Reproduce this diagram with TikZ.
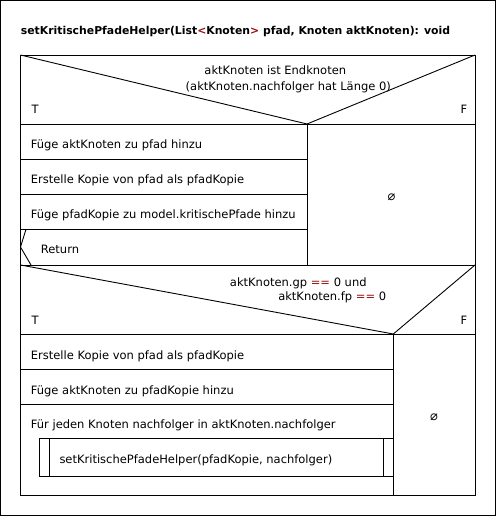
\documentclass[tikz,border=0pt]{standalone}
\usepackage{fontspec}
\setmainfont{DejaVu Sans}
\definecolor{kw}{RGB}{150,15,15}
\begin{document}
\begin{tikzpicture}[x=1pt,y=-1pt,
  ln/.style={line width=0.9pt,black},
  txt/.style={inner sep=0pt,anchor=base west,font=\fontsize{11.5}{13}\selectfont},
  ctxt/.style={inner sep=0pt,anchor=base,font=\fontsize{11.5}{13}\selectfont},
  empt/.style={inner sep=0pt,anchor=center,font=\fontsize{13}{14}\selectfont}]
\useasboundingbox (0,0) rectangle (496,516);
\fill[white] (0,0) rectangle (496,516);
\draw[ln] (0.5,0.5) rectangle (495.5,515.5);
% title
\node[txt,font=\bfseries\fontsize{10.85}{12}\selectfont] (title) at (20.7,34.3)
  {setKritischePfadeHelper(List\textcolor{kw}{<}Knoten\textcolor{kw}{>} pfad, Knoten aktKnoten): void};
% main box
\draw[ln] (20.5,55) rectangle (475,495);
% decision 1
\draw[ln] (20.5,55) -- (307,124) -- (475,55);
\draw[ln] (20.5,124) -- (475,124);
\draw[ln] (307,124) -- (307,265);
\node[ctxt] (c1a) at (275.3,75) {aktKnoten ist Endknoten};
\node[ctxt] (c1b) at (288.3,90.3) {(aktKnoten.nachfolger hat Länge 0)};
\node[txt] (t1) at (31.5,113.3) {T};
\node[txt] (f1) at (460.5,113.3) {F};
\draw[ln] (20.5,159.3) -- (307,159.3);
\draw[ln] (20.5,194.3) -- (307,194.3);
\draw[ln] (20.5,229.3) -- (307,229.3);
\draw[ln] (20.5,265) -- (475,265);
\node[txt] (s1) at (30.7,148.3) {Füge aktKnoten zu pfad hinzu};
\node[txt] (s2) at (30.7,183.3) {Erstelle Kopie von pfad als pfadKopie};
\node[txt] (s3) at (30.7,218.3) {Füge pfadKopie zu model.kritischePfade hinzu};
\node[txt] (ret) at (40.7,253.3) {Return};
\draw[ln] (26,229.3) -- (20.5,247) -- (31,265);
\node[empt] (e1) at (391.5,197) {⌀};
% decision 2
\draw[ln] (20.5,265) -- (393.3,334) -- (475,265);
\draw[ln] (20.5,334) -- (475,334);
\draw[ln] (393.3,334) -- (393.3,495);
\node[ctxt] (c2a) at (298.3,286) {aktKnoten.gp \textcolor{kw}{==} 0 und};
\node[ctxt] (c2b) at (332.2,300) {aktKnoten.fp \textcolor{kw}{==} 0};
\node[txt] (t2) at (31.5,324.3) {T};
\node[txt] (f2) at (460.5,324.3) {F};
\draw[ln] (20.5,369.3) -- (393.3,369.3);
\draw[ln] (20.5,404.3) -- (393.3,404.3);
\node[txt] (s4) at (30.7,359) {Erstelle Kopie von pfad als pfadKopie};
\node[txt] (s5) at (30.7,394) {Füge aktKnoten zu pfadKopie hinzu};
\node[txt] (loop) at (30.7,428.3) {Für jeden Knoten nachfolger in aktKnoten.nachfolger};
\draw[ln] (39.3,438.3) rectangle (393.3,476);
\draw[ln] (49.3,438.3) -- (49.3,476);
\draw[ln] (383.3,438.3) -- (383.3,476);
\node[txt] (call) at (59.3,463.3) {setKritischePfadeHelper(pfadKopie, nachfolger)};
\node[empt] (e2) at (434,417.7) {⌀};
\end{tikzpicture}
\end{document}
